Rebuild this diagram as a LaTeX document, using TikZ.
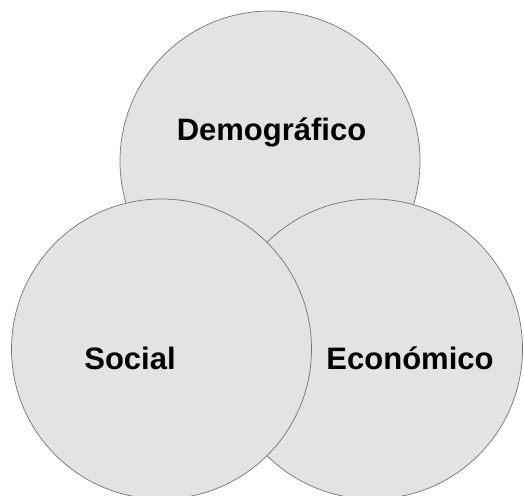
\documentclass[tikz,border=0pt]{standalone}
\usepackage{fontspec}
\setmainfont{Liberation Sans}
\begin{document}
\begin{tikzpicture}[x=1pt,y=-1pt,
  blob/.style={circle,draw=black!55,line width=0.7pt,fill=black!11,minimum size=300pt,inner sep=0pt},
  lab/.style={anchor=base,font=\fontsize{31}{36}\selectfont\bfseries,inner sep=0pt}]
\useasboundingbox (0,0) rectangle (524,495);
\node[blob] (dem) at (270,161) {};
\node[blob] (eco) at (372.5,349) {};
\node[blob] (soc) at (161.5,349) {};
\node[lab] (tdem) at (271.5,140) {Demográfico};
\node[lab] (tsoc) at (130,369) {Social};
\node[lab] (teco) at (410,369) {Económico};
\end{tikzpicture}
\end{document}
